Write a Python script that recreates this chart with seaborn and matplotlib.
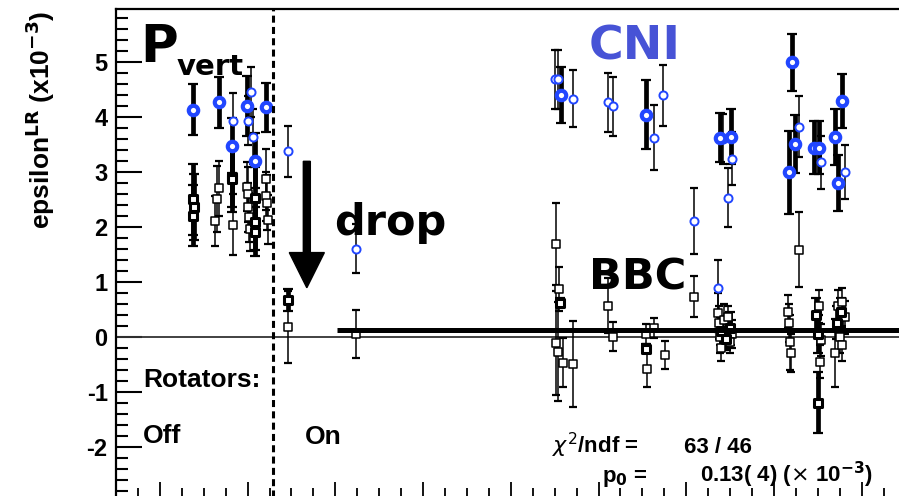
import numpy as np
import pandas as pd
import matplotlib
matplotlib.use("Agg")
import matplotlib.pyplot as plt
from matplotlib.ticker import MultipleLocator, NullFormatter
import seaborn as sns

# ---- measurements: run position, asymmetry (x1e-3), error ----
cni_thick_x = [3.8, 6.7, 8.2, 9.9, 10.9, 12.1, 45.7, 55.4, 63.8, 65.1, 71.7, 72.0, 72.4, 74.6, 75.1, 76.9, 77.3, 77.7]
cni_thick_y = [4.13, 4.26, 3.47, 4.20, 3.20, 4.17, 4.39, 4.04, 3.62, 3.64, 2.99, 4.99, 3.50, 3.44, 3.44, 3.64, 2.79, 4.28]
cni_thick_e = [0.46, 0.46, 0.50, 0.55, 0.50, 0.45, 0.51, 0.63, 0.45, 0.50, 0.75, 0.52, 0.53, 0.49, 0.49, 0.51, 0.51, 0.49]

cni_thin_x = [8.3, 10.1, 10.4, 10.6, 14.6, 22.4, 45.0, 45.4, 47.1, 51.1, 51.7, 56.3, 57.4, 60.9, 63.6, 64.2, 64.7, 65.2, 72.9, 75.4, 78.1]
cni_thin_y = [3.93, 3.93, 4.45, 3.64, 3.37, 1.60, 4.68, 4.68, 4.33, 4.26, 4.19, 3.62, 4.39, 2.11, 0.89, 3.60, 2.53, 3.24, 3.82, 3.17, 2.99]
cni_thin_e = [0.50, 0.45, 0.45, 0.50, 0.46, 0.45, 0.53, 0.53, 0.52, 0.53, 0.54, 0.59, 0.56, 0.60, 0.50, 0.45, 0.54, 0.49, 0.55, 0.48, 0.49]

bbc_thick_x = [3.8, 3.8, 3.9, 8.2, 8.2, 10.9, 10.9, 10.9, 14.6, 45.6, 55.4, 64.0, 64.5, 65.0, 74.8, 75.0, 75.0, 77.2, 77.6]
bbc_thick_y = [2.50, 2.20, 2.35, 2.90, 2.86, 2.53, 2.08, 1.91, 0.67, 0.62, -0.22, 0.10, -0.05, 0.15, 0.40, -1.20, 0.05, 0.25, 0.45]
bbc_thick_e = [0.65, 0.55, 0.60, 0.55, 0.60, 0.55, 0.50, 0.45, 0.20, 0.08, 0.08, 0.25, 0.20, 0.30, 0.30, 0.55, 0.35, 0.30, 0.25]

bbc_thin_x = [6.3, 6.5, 6.7, 8.3, 9.9, 10.0, 10.1, 10.2, 10.3, 12.1, 12.1, 12.2, 12.3, 14.6, 22.4,
              45.1, 45.5, 45.2, 45.4, 45.9, 47.1, 51.1, 51.6, 55.4, 55.5, 56.3, 57.6, 60.9,
              63.6, 63.7, 63.8, 64.0, 64.3, 64.7, 65.2, 65.0, 71.6, 71.7, 71.8, 71.9, 72.8,
              75.2, 75.4, 75.1, 76.9, 77.3, 77.7, 77.5, 77.8, 78.1]
bbc_thin_y = [2.10, 2.50, 2.70, 2.04, 2.73, 2.59, 2.35, 2.17, 1.95, 2.86, 2.55, 2.44, 2.13, 0.18, 0.05,
              1.69, 0.86, -0.11, -0.27, -0.47, -0.49, 0.56, 0.00, 0.05, -0.58, 0.16, -0.33, 0.73,
              0.44, 0.25, 0.00, -0.20, 0.30, 0.35, 0.05, -0.10, 0.45, 0.25, -0.10, -0.30, 1.58,
              -0.46, -0.06, 0.55, -0.30, 0.55, 0.64, 0.00, -0.15, 0.35]
bbc_thin_e = [0.45, 0.60, 0.50, 0.55, 0.45, 0.50, 0.45, 0.45, 0.40, 0.55, 0.45, 0.50, 0.45, 0.65, 0.43,
              0.75, 0.40, 0.95, 0.90, 0.45, 0.78, 0.50, 0.26, 0.18, 0.33, 0.18, 0.25, 0.38,
              0.35, 0.30, 0.30, 0.25, 0.30, 0.20, 0.25, 0.20, 0.30, 0.35, 0.50, 0.35, 0.68,
              0.30, 0.30, 0.30, 0.62, 0.30, 0.25, 0.30, 0.30, 0.30]

rotator_switch = 12.9      # rotators turned on
fit_start = 20.2           # start of constant fit
p0 = 0.13
y_ticks = [-2, -1, 0, 1, 2, 3, 4, 5]
y_ticklabels = ["-2", "-1", "0", "1", "2", "3", "4", "5"]

BLUE = "#2146ff"
CNI_TXT = "#4753d6"

sns.set_theme(style="ticks")
plt.rcParams["font.family"] = ["Liberation Sans", "DejaVu Sans"]
plt.rcParams["axes.unicode_minus"] = False
plt.rcParams["mathtext.fontset"] = "dejavusans"
plt.rcParams["text.color"] = "black"
plt.rcParams["ytick.labelcolor"] = "black"

W, H = 899, 496
fig = plt.figure(figsize=(W / 100, H / 100), dpi=100)
fig.patch.set_facecolor("white")
ax = fig.add_axes([116 / W, (H - 500) / H, (910 - 116) / W, (500 - 9) / H])
ax.set_facecolor("white")
ax.set_xlim(-5.0, 85.5)
ax.set_ylim(-2.97, 5.96)


def frame(xs, ys, es):
    return pd.DataFrame({"run": xs, "eps": ys, "err": es})


bbc_thin = frame(bbc_thin_x, bbc_thin_y, bbc_thin_e)
bbc_thick = frame(bbc_thick_x, bbc_thick_y, bbc_thick_e)
cni_thin = frame(cni_thin_x, cni_thin_y, cni_thin_e)
cni_thick = frame(cni_thick_x, cni_thick_y, cni_thick_e)

# reference lines
ax.axhline(0, color="#333333", lw=1.3, zorder=1)
ax.axvline(rotator_switch, color="black", lw=2.2, ls=(0, (2.3, 1.4)), zorder=6)

# error bars
for d, lw, cap, z in [(bbc_thin, 1.1, 3.0, 2), (bbc_thick, 3.4, 3.5, 2),
                      (cni_thin, 1.1, 3.0, 3), (cni_thick, 3.4, 3.5, 3)]:
    ax.errorbar(d["run"], d["eps"], yerr=d["err"], fmt="none", ecolor="black",
                elinewidth=lw, capsize=cap, capthick=1.6, zorder=z)

# markers
sns.scatterplot(data=bbc_thin, x="run", y="eps", marker="s", s=30, facecolor="white",
                edgecolor="black", linewidth=1.1, ax=ax, zorder=4, legend=False)
sns.scatterplot(data=bbc_thick, x="run", y="eps", marker="s", s=32, facecolor="white",
                edgecolor="black", linewidth=2.2, ax=ax, zorder=4, legend=False)
sns.scatterplot(data=cni_thin, x="run", y="eps", marker="o", s=34, facecolor="white",
                edgecolor=BLUE, linewidth=1.4, ax=ax, zorder=5, legend=False)
sns.scatterplot(data=cni_thick, x="run", y="eps", marker="o", s=46, facecolor="white",
                edgecolor=BLUE, linewidth=3.0, ax=ax, zorder=5, legend=False)

# constant fit
ax.hlines(p0, fit_start, 85.5, color="black", lw=3.6, zorder=7)

# arrow marking the drop
ax.arrow(16.75, 3.19, 0, 0.89 - 3.19, width=0.8, head_width=4.0, head_length=0.64,
         length_includes_head=True, color="black", zorder=8)

# axes styling
ax.set_xlabel("")
ax.set_ylabel("")
ax.xaxis.set_major_locator(MultipleLocator(10))
ax.xaxis.set_minor_locator(MultipleLocator(2.5))
ax.xaxis.set_major_formatter(NullFormatter())
ax.set_yticks(y_ticks)
ax.set_yticklabels(y_ticklabels, fontweight="bold", fontsize=17, color="black")
ax.yaxis.set_minor_locator(MultipleLocator(0.2))
ax.tick_params(axis="y", which="major", direction="in", length=18.5, width=1.5, pad=6, color="black")
ax.tick_params(axis="y", which="minor", direction="in", length=8.6, width=1.5, color="black")
ax.tick_params(axis="x", which="major", direction="in", length=13, width=1.3, color="black")
ax.tick_params(axis="x", which="minor", direction="in", length=8.5, width=1.3, color="black")
ax.tick_params(top=False, right=False, which="both")
for side in ["left", "top", "bottom", "right"]:
    ax.spines[side].set_color("black")
    ax.spines[side].set_linewidth(1.6)


def ftext(px, py, s, **kw):
    fig.text(px / W, 1 - py / H, s, va="baseline", ha="left", color=kw.pop("color", "black"), **kw)


fig.text(40 / W, 1 - 120 / H, r"epsilon$^{\mathbf{LR}}$ (x10$^{\mathbf{-3}}$)", rotation=90,
         ha="center", va="center", fontsize=19, fontweight="bold", color="black")

big = ["DejaVu Sans"]
ftext(140, 62, "P", fontsize=37, fontweight="bold", family=big)
ftext(177, 75, "vert", fontsize=21, fontweight="bold", family=big)
ftext(589, 60, "CNI", fontsize=34, fontweight="bold", family=big, color=CNI_TXT)
ftext(334, 235, "drop", fontsize=31, fontweight="bold", family=big)
ftext(589, 290, "BBC", fontsize=31, fontweight="bold", family=big)
ftext(143, 387, "Rotators:", fontsize=19, fontweight="bold")
ftext(143, 443, "Off", fontsize=19, fontweight="bold")
ftext(305, 444, "On", fontsize=19, fontweight="bold")

ftext(552, 453, r"$\chi^{2}$/ndf =", fontsize=16, fontweight="bold")
ftext(684, 453, "63 / 46", fontsize=16, fontweight="bold")
ftext(602, 482, r"p$_{\mathbf{0}}$ =", fontsize=16, fontweight="bold")
ftext(700, 482, r"0.13( 4) ($\times$ 10$^{\mathbf{-3}}$)", fontsize=16, fontweight="bold")

fig.savefig("out.png", dpi=100, facecolor="white")
